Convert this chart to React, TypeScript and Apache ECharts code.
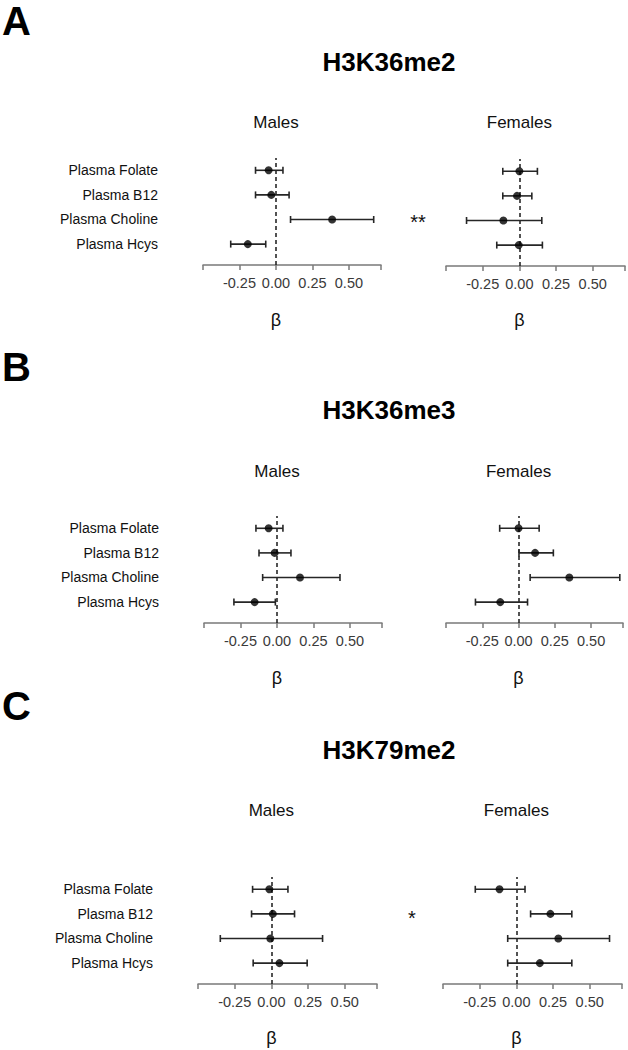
import React, { useEffect, useRef } from 'react';
import * as echarts from 'echarts';

// ---------- data ----------
const categories = ['Plasma Folate', 'Plasma B12', 'Plasma Choline', 'Plasma Hcys'];
const rowPositions = [4, 3, 2, 1];
const panelLetters = ['A', 'B', 'C'];
const panelTitles = ['H3K36me2', 'H3K36me3', 'H3K79me2'];
const sexLabels = ['Males', 'Females'];
const xTickValues = [-0.5, -0.25, 0, 0.25, 0.5, 0.72];
const xLabelValues = [-0.25, 0, 0.25, 0.5];
const xMin = -0.5;
const xMax = 0.72;
const axisTitle = 'β';

// panel A (H3K36me2)
const aMalesBeta = [-0.05, -0.032, 0.385, -0.193];
const aMalesLow = [-0.14, -0.14, 0.1, -0.31];
const aMalesHigh = [0.048, 0.09, 0.67, -0.07];
const aFemalesBeta = [0.0, -0.016, -0.109, -0.004];
const aFemalesLow = [-0.113, -0.113, -0.36, -0.154];
const aFemalesHigh = [0.123, 0.085, 0.153, 0.157];
// panel B (H3K36me3)
const bMalesBeta = [-0.057, -0.016, 0.158, -0.153];
const bMalesLow = [-0.144, -0.123, -0.098, -0.295];
const bMalesHigh = [0.041, 0.096, 0.432, -0.011];
const bFemalesBeta = [0.0, 0.114, 0.35, -0.126];
const bFemalesLow = [-0.13, 0.003, 0.08, -0.297];
const bFemalesHigh = [0.142, 0.24, 0.698, 0.062];
// panel C (H3K79me2)
const cMalesBeta = [-0.014, 0.01, -0.007, 0.055];
const cMalesLow = [-0.128, -0.135, -0.348, -0.124];
const cMalesHigh = [0.113, 0.158, 0.349, 0.244];
const cFemalesBeta = [-0.115, 0.232, 0.286, 0.16];
const cFemalesLow = [-0.28, 0.097, -0.059, -0.059];
const cFemalesHigh = [0.059, 0.378, 0.635, 0.378];

// significance marks
const sigMarks = [
  { panel: 0, text: '**' },
  { panel: 2, text: '*' },
];

const groups = [
  { beta: aMalesBeta, low: aMalesLow, high: aMalesHigh },
  { beta: aFemalesBeta, low: aFemalesLow, high: aFemalesHigh },
  { beta: bMalesBeta, low: bMalesLow, high: bMalesHigh },
  { beta: bFemalesBeta, low: bFemalesLow, high: bFemalesHigh },
  { beta: cMalesBeta, low: cMalesLow, high: cMalesHigh },
  { beta: cFemalesBeta, low: cFemalesLow, high: cFemalesHigh },
];

// ---------- layout (pixels) ----------
const gridLayout = [
  { left: 203, width: 178, axis: 265 },
  { left: 446, width: 179, axis: 266 },
  { left: 204, width: 178, axis: 623 },
  { left: 446, width: 177, axis: 623 },
  { left: 198, width: 179, axis: 984 },
  { left: 443, width: 179, axis: 984 },
];
const gridHeight = 107;
const panelLayout = [
  { letterY: 21, titleY: 62, sexY: 122, betaY: 320, sigX: 418, sigY: 222 },
  { letterY: 367, titleY: 410, sexY: 471, betaY: 678, sigX: 418, sigY: 580 },
  { letterY: 706, titleY: 750, sexY: 810, betaY: 1038, sigX: 412, sigY: 918 },
];
const FONT = '"Liberation Sans", Arial, Helvetica, sans-serif';

function zeroPx(g: { left: number; width: number }) {
  return g.left + ((0 - xMin) / (xMax - xMin)) * g.width;
}

export default function App() {
  const ref = useRef<HTMLDivElement>(null);

  useEffect(() => {
    document.body.style.margin = '0';
    if (!ref.current) return;
    const chart = echarts.init(ref.current, undefined, { renderer: 'svg' });

    const grid = gridLayout.map((g) => ({
      left: g.left,
      width: g.width,
      top: g.axis - gridHeight,
      height: gridHeight,
      containLabel: false,
    }));

    const xAxis = gridLayout.map((_, i) => ({
      type: 'value',
      gridIndex: i,
      min: xMin,
      max: xMax,
      splitLine: { show: false },
      axisLine: { show: true, lineStyle: { color: '#7a7a7a', width: 1.5 } },
      axisTick: {
        show: true,
        length: 5,
        customValues: xTickValues,
        lineStyle: { color: '#7a7a7a', width: 1.5 },
      },
      axisLabel: {
        show: true,
        customValues: xLabelValues,
        formatter: (v: number) => v.toFixed(2),
        fontSize: 14.5,
        color: '#3a3a3a',
        fontFamily: FONT,
        margin: 10,
      },
    }));

    const yAxis = gridLayout.map((_, i) => ({
      type: 'value',
      gridIndex: i,
      min: 0.15,
      max: 4.5,
      splitLine: { show: false },
      axisLine: { show: false },
      axisTick: { show: false },
      axisLabel: {
        show: i % 2 === 0,
        customValues: rowPositions,
        formatter: (v: number) => categories[rowPositions.indexOf(v)] ?? '',
        fontSize: 14,
        color: '#111',
        fontFamily: FONT,
        margin: 45,
        align: 'right',
      },
    }));

    const series: any[] = [];
    groups.forEach((grp, i) => {
      series.push({
        type: 'custom',
        xAxisIndex: i,
        yAxisIndex: i,
        z: 3,
        silent: true,
        data: categories.map((_, k) => [grp.low[k], grp.high[k], rowPositions[k]]),
        encode: { x: [0, 1], y: 2 },
        renderItem: (params: any, api: any) => {
          const y = api.value(2);
          const p1 = api.coord([api.value(0), y]);
          const p2 = api.coord([api.value(1), y]);
          const h = 3.5;
          const style = { stroke: '#262626', lineWidth: 1.6 };
          return {
            type: 'group',
            children: [
              { type: 'line', shape: { x1: p1[0], y1: p1[1], x2: p2[0], y2: p2[1] }, style },
              { type: 'line', shape: { x1: p1[0], y1: p1[1] - h, x2: p1[0], y2: p1[1] + h }, style },
              { type: 'line', shape: { x1: p2[0], y1: p2[1] - h, x2: p2[0], y2: p2[1] + h }, style },
            ],
          };
        },
      });
      series.push({
        type: 'scatter',
        xAxisIndex: i,
        yAxisIndex: i,
        z: 5,
        silent: true,
        symbol: 'circle',
        symbolSize: 8,
        itemStyle: { color: '#000' },
        data: categories.map((_, k) => [grp.beta[k], rowPositions[k]]),
        markLine: {
          silent: true,
          symbol: 'none',
          z: 2,
          label: { show: false },
          lineStyle: { color: '#1a1a1a', width: 1.5, type: [4, 3] },
          data: [{ xAxis: 0 }],
        },
      });
    });

    const graphic: any[] = [];
    panelLayout.forEach((p, pi) => {
      graphic.push({
        type: 'text',
        x: 2,
        y: p.letterY,
        style: {
          text: panelLetters[pi],
          font: `bold 40px ${FONT}`,
          fill: '#000',
          textVerticalAlign: 'middle',
        },
      });
      graphic.push({
        type: 'text',
        x: 389,
        y: p.titleY,
        style: {
          text: panelTitles[pi],
          font: `bold 26px ${FONT}`,
          fill: '#000',
          textAlign: 'center',
          textVerticalAlign: 'middle',
        },
      });
      [0, 1].forEach((s) => {
        const g = gridLayout[pi * 2 + s];
        const zx = zeroPx(g);
        graphic.push({
          type: 'text',
          x: zx,
          y: p.sexY,
          style: {
            text: sexLabels[s],
            font: `17px ${FONT}`,
            fill: '#111',
            textAlign: 'center',
            textVerticalAlign: 'middle',
          },
        });
        graphic.push({
          type: 'text',
          x: zx,
          y: p.betaY,
          style: {
            text: axisTitle,
            font: `18px ${FONT}`,
            fill: '#111',
            textAlign: 'center',
            textVerticalAlign: 'middle',
          },
        });
      });
    });
    sigMarks.forEach((m) => {
      const p = panelLayout[m.panel];
      graphic.push({
        type: 'text',
        x: p.sigX,
        y: p.sigY,
        style: {
          text: m.text,
          font: `20px ${FONT}`,
          fill: '#111',
          textAlign: 'center',
          textVerticalAlign: 'middle',
        },
      });
    });

    chart.setOption({
      animation: false,
      backgroundColor: '#fff',
      grid,
      xAxis,
      yAxis,
      series,
      graphic,
    });

    return () => chart.dispose();
  }, []);

  return <div ref={ref} style={{ width: 628, height: 1050 }} />;
}
